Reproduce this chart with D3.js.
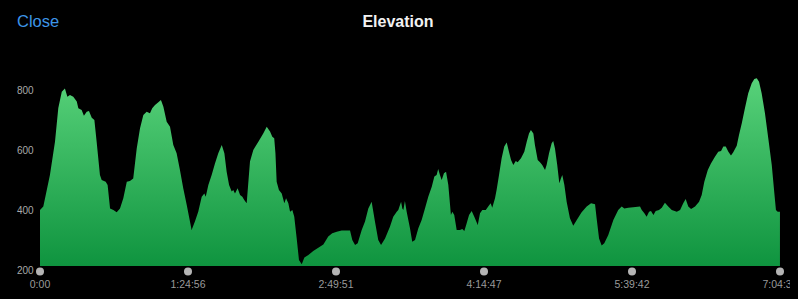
<!DOCTYPE html>
<html>
<head>
<meta charset="utf-8">
<script src="https://cdn.jsdelivr.net/npm/d3@7"></script>
<style>
  html, body { margin: 0; padding: 0; background: #000; }
  svg { display: block; }
</style>
</head>
<body>
<svg id="chart" width="798" height="299"></svg>
<script>
// elapsed time in minutes
const timeMin = [0,1.9,5.7,8.6,10.5,12.5,14.3,15.7,17.2,19.1,21.1,22.0,23.9,25.2,26.8,28.1,29.7,31.2,32.5,34.4,35.4,37.7,38.8,40.2,42.1,44.0,45.9,47.8,49.8,51.6,53.5,55.5,57.4,59.3,61.2,63.1,64.4,66.0,67.9,69.4,70.8,72.7,74.6,76.5,78.4,80.3,82.2,84.2,87.0,88.9,90.8,92.8,94.3,95.1,96.6,98.5,100.4,102.3,104.3,105.8,107.1,108.5,110.0,110.9,111.9,113.4,114.8,116.1,117.2,118.6,120.5,122.4,125.3,128.1,130.1,132.0,133.3,134.4,135.1,135.8,137.1,138.7,140.2,141.2,142.5,143.5,144.8,145.9,147.3,148.6,150.2,151.7,154.0,156.8,159.7,162.6,165.4,167.7,170.3,173.1,177.9,179.2,180.8,182.3,184.6,186.5,188.4,190.3,192.2,194.1,195.7,198.0,200.8,202.7,204.7,205.6,207.2,207.9,208.5,209.4,210.4,212.3,213.6,215.2,217.1,219.0,220.9,222.8,224.8,226.3,227.6,228.5,229.5,230.5,231.8,233.0,234.3,235.8,236.6,237.7,239.1,241.0,242.3,243.5,244.8,246.2,247.7,249.2,251.2,252.5,253.8,255.8,257.2,258.6,259.5,261.1,262.0,263.4,264.9,266.4,267.8,269.1,270.3,271.6,273.0,274.1,276.0,277.9,279.3,280.6,281.7,283.1,284.0,285.6,286.9,288.2,289.8,290.7,292.1,293.6,294.5,295.5,296.8,298.0,298.9,299.7,300.9,302.2,304.1,306.0,308.0,310.8,313.7,316.2,318.5,319.4,320.8,322.3,323.8,326.1,329.0,331.8,333.8,335.3,337.6,340.4,344.3,345.3,346.8,348.1,349.5,350.6,352.0,353.3,355.2,356.8,358.6,360.5,362.5,365.4,367.3,369.1,370.5,372.0,373.6,375.9,378.2,379.7,381.2,383.2,385.0,387.3,389.2,390.8,392.1,393.5,395.0,396.5,397.8,399.8,401.1,402.7,404.5,406.4,408.4,409.9,411.3,412.6,414.1,416.0,417.9,419.9,421.4,422.3,423.3,424.6];
// elevation in metres
const elevation = [387,398,503,614,727,781,792,764,770,764,748,726,720,701,714,717,694,687,614,503,487,481,470,392,387,379,392,426,481,483,492,592,659,703,714,709,726,737,746,753,731,681,664,603,576,520,459,403,320,348,381,431,442,431,470,503,542,576,603,576,514,470,448,453,442,459,437,431,420,409,548,587,614,642,664,648,631,626,576,481,453,442,409,426,409,381,387,364,292,220,206,228,237,250,261,272,298,309,314,318,318,287,270,276,320,348,392,414,348,287,270,292,331,364,381,387,414,392,387,417,381,326,281,287,326,353,392,431,464,498,503,523,503,487,509,514,470,370,381,370,320,320,323,317,342,370,383,364,337,376,387,387,398,409,394,426,453,503,559,598,612,581,553,537,550,546,559,581,614,642,653,642,603,553,546,537,520,537,576,609,617,592,537,476,492,503,470,414,359,334,353,379,398,409,406,359,292,268,276,303,353,387,398,392,394,396,398,387,376,364,381,383,370,383,387,394,411,398,387,381,387,409,423,398,390,398,414,437,481,520,542,564,581,583,598,598,581,568,579,601,637,676,726,776,809,823,826,814,776,709,626,537,442,387,381,381];

const totalMin = 424.63;
const yTicks = [200, 400, 600, 800];
const xTickLabels = ["0:00", "1:24:56", "2:49:51", "4:14:47", "5:39:42", "7:04:38"];
const xTickValues = xTickLabels.map((d, i) => i * totalMin / 5);

const svg = d3.select("#chart");
const x = d3.scaleLinear().domain([0, totalMin]).range([40, 780]);
const y = d3.scaleLinear().domain([200, 800]).range([266, 86]);

const defs = svg.append("defs");
const grad = defs.append("linearGradient")
  .attr("id", "g").attr("gradientUnits", "userSpaceOnUse")
  .attr("x1", 0).attr("x2", 0).attr("y1", y(830)).attr("y2", y(200));
grad.append("stop").attr("offset", "0%").attr("stop-color", "#58d27a");
grad.append("stop").attr("offset", "100%").attr("stop-color", "#0f943f");
defs.append("clipPath").attr("id", "clipx")
  .append("rect").attr("x", 0).attr("y", 0).attr("width", 790).attr("height", 299);

const data = timeMin.map((t, i) => ({ t, e: elevation[i] }));
const area = d3.area()
  .x(d => x(d.t))
  .y0(y(200))
  .y1(d => y(d.e))
  .curve(d3.curveLinear);

svg.append("path").datum(data)
  .attr("d", area)
  .attr("fill", "url(#g)");

// y labels
svg.append("g").selectAll("text").data(yTicks).join("text")
  .attr("x", 17).attr("y", d => y(d) + 4 + 3.6)
  .attr("fill", "#a8a8a8")
  .attr("font-family", "Liberation Sans, Arial, sans-serif")
  .attr("font-size", 10)
  .text(d => d);

// x axis dots and labels
const xg = svg.append("g").attr("clip-path", "url(#clipx)");
xg.selectAll("circle").data(xTickValues).join("circle")
  .attr("cx", d => x(d)).attr("cy", 271.5).attr("r", 4)
  .attr("fill", "#b4b4b4");
xg.selectAll("text").data(xTickValues).join("text")
  .attr("x", d => x(d)).attr("y", 288.3)
  .attr("text-anchor", "middle")
  .attr("fill", "#9a9a9a")
  .attr("font-family", "Liberation Sans, Arial, sans-serif")
  .attr("font-size", 10.5)
  .text((d, i) => xTickLabels[i]);

// header
svg.append("text").attr("x", 17).attr("y", 27.3)
  .attr("fill", "#3d95e8")
  .attr("font-family", "Liberation Sans, Arial, sans-serif")
  .attr("font-size", 16.5)
  .text("Close");
svg.append("text").attr("x", 398).attr("y", 27.3)
  .attr("text-anchor", "middle")
  .attr("fill", "#f2f2f2")
  .attr("font-family", "Liberation Sans, Arial, sans-serif")
  .attr("font-weight", "bold")
  .attr("font-size", 16)
  .text("Elevation");
</script>
</body>
</html>
